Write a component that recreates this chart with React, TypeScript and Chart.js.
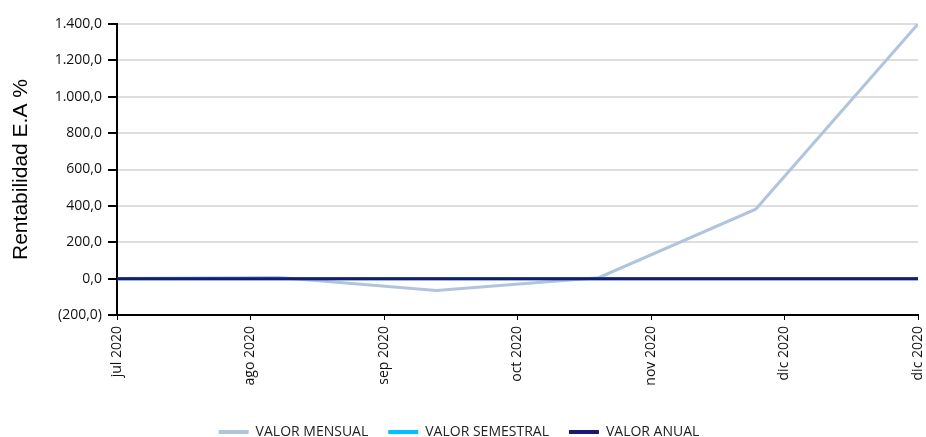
import React, { useEffect, useRef } from "react";
import { Chart, registerables } from "chart.js";

Chart.register(...registerables);

// Period end dates for each observation
const dates = ["2020-07-31", "2020-08-31", "2020-09-30", "2020-10-31", "2020-11-30", "2020-12-31"];
const valorMensual = [0, 6, -65, 5, 382, 1400];
const valorSemestral = [0, 0, 0, 0, 0, 0];
const valorAnual = [0, 0, 0, 0, 0, 0];
const tickLabels = ["jul 2020", "ago 2020", "sep 2020", "oct 2020", "nov 2020", "dic 2020", "dic 2020"];
const seriesNames = ["VALOR MENSUAL", "VALOR SEMESTRAL", "VALOR ANUAL"];
const seriesColors = ["#B0C4DE", "#00BFFF", "#191970"];
const yMin = -200;
const yMax = 1400;
const yStep = 200;

const DAY = 86400000;
const start = Date.parse(dates[0]);
const toDays = (d: string) => (Date.parse(d) - start) / DAY;
const span = toDays(dates[dates.length - 1]);
const tickPositions = tickLabels.map((_, i) => (i * span) / (tickLabels.length - 1));

function fmt(v: number): string {
  const abs = Math.abs(v);
  const intPart = Math.floor(abs).toString().replace(/\B(?=(\d{3})+(?!\d))/g, ".");
  const dec = Math.round((abs - Math.floor(abs)) * 10);
  const s = intPart + "," + dec;
  return v < 0 ? "(" + s + ")" : s;
}

export default function App() {
  const ref = useRef<HTMLCanvasElement>(null);
  useEffect(() => {
    if (!ref.current) return;
    const series = [valorMensual, valorSemestral, valorAnual];
    const chart = new Chart(ref.current, {
      type: "line",
      data: {
        datasets: series.map((vals, i) => ({
          label: seriesNames[i],
          data: vals.map((v, j) => ({ x: toDays(dates[j]), y: v })),
          borderColor: seriesColors[i],
          backgroundColor: seriesColors[i],
          borderWidth: 3,
          pointRadius: 0,
          tension: 0,
          order: 3 - i,
        })),
      },
      options: {
        animation: false,
        responsive: true,
        maintainAspectRatio: false,
        layout: { padding: { top: 24, right: 8, left: 0, bottom: -12 } },
        plugins: {
          tooltip: { enabled: false },
          legend: {
            position: "bottom",
            labels: {
              boxWidth: 30,
              boxHeight: 4,
              padding: 20,
              color: "#222",
              font: { family: "'Open Sans'", size: 14 },
              sort: (a: any, b: any) => a.datasetIndex - b.datasetIndex,
              generateLabels: (c: any) =>
                Chart.defaults.plugins.legend.labels
                  .generateLabels(c)
                  .map((l: any) => ({ ...l, lineWidth: 0, fillStyle: l.strokeStyle })),
            },
          },
        },
        scales: {
          x: {
            type: "linear",
            min: 0,
            max: span,
            afterBuildTicks: (axis: any) => {
              axis.ticks = tickPositions.map((v) => ({ value: v }));
            },
            afterFit: (axis: any) => {
              axis.height = 90;
              axis.paddingRight = 0;
              axis.paddingLeft = 0;
            },
            ticks: {
              autoSkip: false,
              maxRotation: 90,
              minRotation: 90,
              padding: 6,
              color: "#111",
              font: { family: "'Open Sans'", size: 14 },
              callback: (_v: any, i: number) => tickLabels[i],
            },
            grid: { drawOnChartArea: false, drawTicks: true, tickLength: 5, tickColor: "#000" },
            border: { color: "#000", width: 2 },
          },
          y: {
            min: yMin,
            max: yMax,
            afterFit: (axis: any) => {
              axis.width = 117;
            },
            ticks: {
              stepSize: yStep,
              padding: 6,
              color: "#111",
              font: { family: "'Open Sans'", size: 14 },
              callback: (v: any) => fmt(Number(v)),
            },
            grid: { color: "#dedede", lineWidth: 2, tickLength: 9, tickColor: "#000" },
            border: { color: "#000", width: 2 },
            title: {
              display: true,
              text: "Rentabilidad E.A %",
              color: "#000",
              font: { family: "'Liberation Sans', Arial", size: 21 },
              padding: { top: 9, bottom: 0 },
            },
          },
        },
      },
    });
    return () => chart.destroy();
  }, []);
  return (
    <div style={{ position: "fixed", left: 0, top: 0, width: 926, height: 437, background: "#fff" }}>
      <canvas ref={ref} />
    </div>
  );
}
